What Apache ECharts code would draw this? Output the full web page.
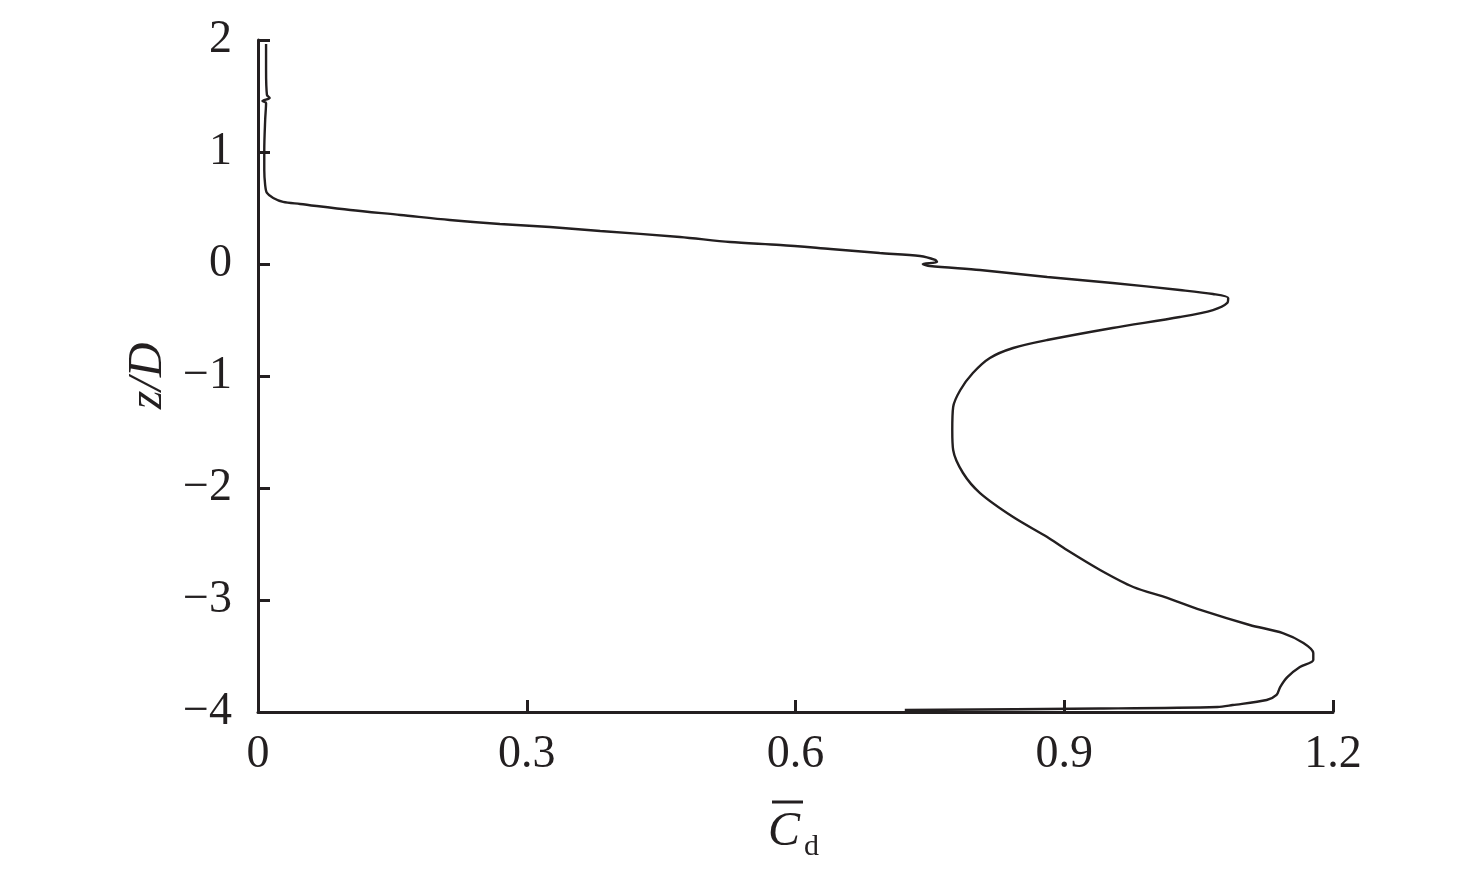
<!DOCTYPE html>
<html>
<head>
<meta charset="utf-8">
<script src="https://cdn.jsdelivr.net/npm/echarts@6/dist/echarts.min.js"></script>
<style>html,body{margin:0;padding:0;background:#fff;}#c{width:1476px;height:876px;}</style>
</head>
<body>
<div id="c"></div>
<script>
var xTicks = [0, 0.3, 0.6, 0.9, 1.2];
var yTicks = [-4, -3, -2, -1, 0, 1, 2];
var cdValues = [0.009,0.009,0.010,0.013,0.005,0.009,0.008,0.007,0.007,0.008,0.010,0.017,0.028,0.047,0.103,0.159,0.214,0.270,0.326,0.382,0.471,0.527,0.583,0.639,0.694,0.739,0.756,0.758,0.742,0.750,0.806,0.881,0.954,1.029,1.066,1.083,1.082,1.066,1.029,0.954,0.881,0.843,0.817,0.798,0.784,0.776,0.775,0.776,0.787,0.806,0.843,0.881,0.903,0.940,0.977,1.015,1.052,1.107,1.144,1.167,1.178,1.178,1.163,1.149,1.141,1.137,1.126,1.088,1.071,0.940,0.722];
var zValues = [1.964,1.732,1.509,1.482,1.455,1.438,1.286,1.018,0.839,0.705,0.634,0.589,0.554,0.536,0.482,0.438,0.393,0.357,0.330,0.295,0.241,0.196,0.170,0.134,0.098,0.071,0.036,0.018,0.000,-0.018,-0.054,-0.116,-0.170,-0.232,-0.268,-0.304,-0.348,-0.411,-0.473,-0.571,-0.679,-0.750,-0.839,-0.973,-1.125,-1.277,-1.482,-1.661,-1.866,-2.045,-2.259,-2.438,-2.554,-2.732,-2.884,-2.982,-3.089,-3.223,-3.295,-3.384,-3.473,-3.536,-3.598,-3.688,-3.777,-3.848,-3.893,-3.938,-3.955,-3.969,-3.982];

var pts = cdValues.map(function(v,i){return [v, zValues[i]];});
var font = '"Liberation Serif", "DejaVu Serif", serif';
var ink = '#231f20';
var chart = echarts.init(document.getElementById('c'));
chart.setOption({
  animation: false,
  backgroundColor: '#fff',
  grid: {left: 258, right: 143, top: 40, bottom: 164},
  xAxis: {
    type: 'value', min: xTicks[0], max: xTicks[xTicks.length-1], interval: 0.3,
    axisLine: {onZero: false, lineStyle: {color: ink, width: 3}},
    axisTick: {inside: true, length: 12, lineStyle: {color: ink, width: 3}},
    splitLine: {show: false},
    axisLabel: {color: ink, fontFamily: font, fontSize: 46, margin: 20,
      formatter: function(v){ return v === 0 ? '0' : v.toFixed(1); }}
  },
  yAxis: {
    type: 'value', min: yTicks[0], max: yTicks[yTicks.length-1], interval: 1,
    axisLine: {onZero: false, lineStyle: {color: ink, width: 3}},
    axisTick: {inside: true, length: 12, lineStyle: {color: ink, width: 3}},
    splitLine: {show: false},
    axisLabel: {color: ink, fontFamily: font, fontSize: 46, margin: 26,
      formatter: function(v){ return v < 0 ? '\u2212' + Math.abs(v) : String(v); }},
    name: 'z/D', nameLocation: 'middle', nameGap: 82, nameRotate: 90,
    nameTextStyle: {color: ink, fontFamily: font, fontSize: 48, fontStyle: 'italic'}
  },
  series: [{
    type: 'line', data: pts, showSymbol: false, smooth: 0.3,
    lineStyle: {color: ink, width: 2.4}
  }],
  graphic: [
    {type: 'text', left: 768, top: 808, style: {text: 'C', font: 'italic 48px ' + font, fill: ink}},
    {type: 'text', left: 804, top: 832, style: {text: 'd', font: '30px ' + font, fill: ink}},
    {type: 'line', shape: {x1: 772, y1: 802, x2: 803, y2: 802}, style: {stroke: ink, lineWidth: 3}}
  ]
});
</script>
</body>
</html>
